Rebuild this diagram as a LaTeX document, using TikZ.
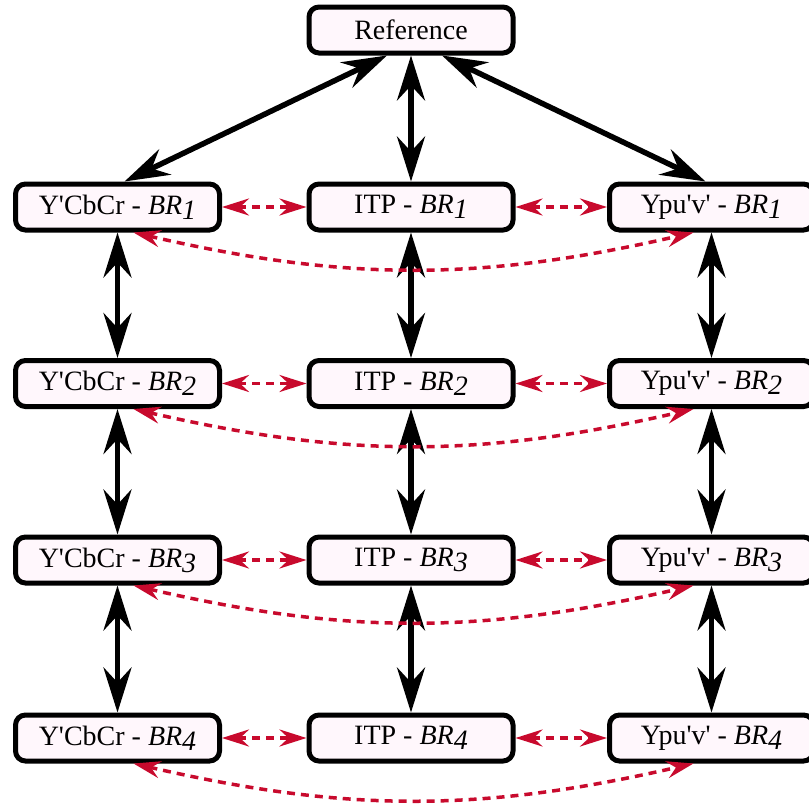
\documentclass[tikz,border=0pt]{standalone}
\usepackage{fontspec}
\setmainfont{Liberation Serif}
\usetikzlibrary{arrows.meta}
\definecolor{boxfill}{RGB}{255,247,252}
\definecolor{linkred}{RGB}{200,10,45}
\newcommand{\brsub}[1]{\textit{BR}\raisebox{-5pt}{\itshape #1}}
\begin{document}
\begin{tikzpicture}[x=1pt,y=1pt,
  box/.style={draw=black, line width=5pt, fill=boxfill, rounded corners=10pt,
    minimum width=204pt, minimum height=46pt, inner sep=0pt,
    font=\fontsize{28}{33}\selectfont},
  bigtip/.tip={Stealth[length=45pt,width=28pt,inset=15pt]},
  redtip/.tip={Stealth[length=27pt,width=17pt,inset=9pt]},
  bigarrow/.style={draw=black, line width=5.5pt, bigtip-bigtip},
  redarrow/.style={draw=linkred, line width=3.5pt, dash pattern=on 8pt off 6pt, redtip-redtip}
]
\useasboundingbox (0,0) rectangle (809,-806);
\node[box] (ref) at (411,-30) {Reference};
\foreach \i/\y in {1/-207,2/-383.5,3/-560,4/-738}{
  \node[box] (y\i) at (117.5,\y) {Y\textquotesingle CbCr - \brsub{\i}};
  \node[box] (i\i) at (411,\y) {ITP - \brsub{\i}};
  \node[box] (u\i) at (711.5,\y) {Ypu\textquotesingle v\textquotesingle\ - \brsub{\i}};
}
\draw[bigarrow] ([xshift=-24pt]ref.south) -- ([xshift=7pt]y1.north);
\draw[bigarrow] (ref.south) -- (i1.north);
\draw[bigarrow] ([xshift=31pt]ref.south) -- ([xshift=-6pt]u1.north);
\foreach \a/\b in {1/2,2/3,3/4}{
  \draw[bigarrow] (y\a.south) -- (y\b.north);
  \draw[bigarrow] (i\a.south) -- (i\b.north);
  \draw[bigarrow] (u\a.south) -- (u\b.north);
}
\foreach \i in {1,2,3,4}{
  \draw[redarrow] (y\i.east) -- (i\i.west);
  \draw[redarrow] (i\i.east) -- (u\i.west);
  \draw[redarrow] ([xshift=16pt]y\i.south) to[bend right=13] ([xshift=-18pt]u\i.south);
}
\end{tikzpicture}
\end{document}
